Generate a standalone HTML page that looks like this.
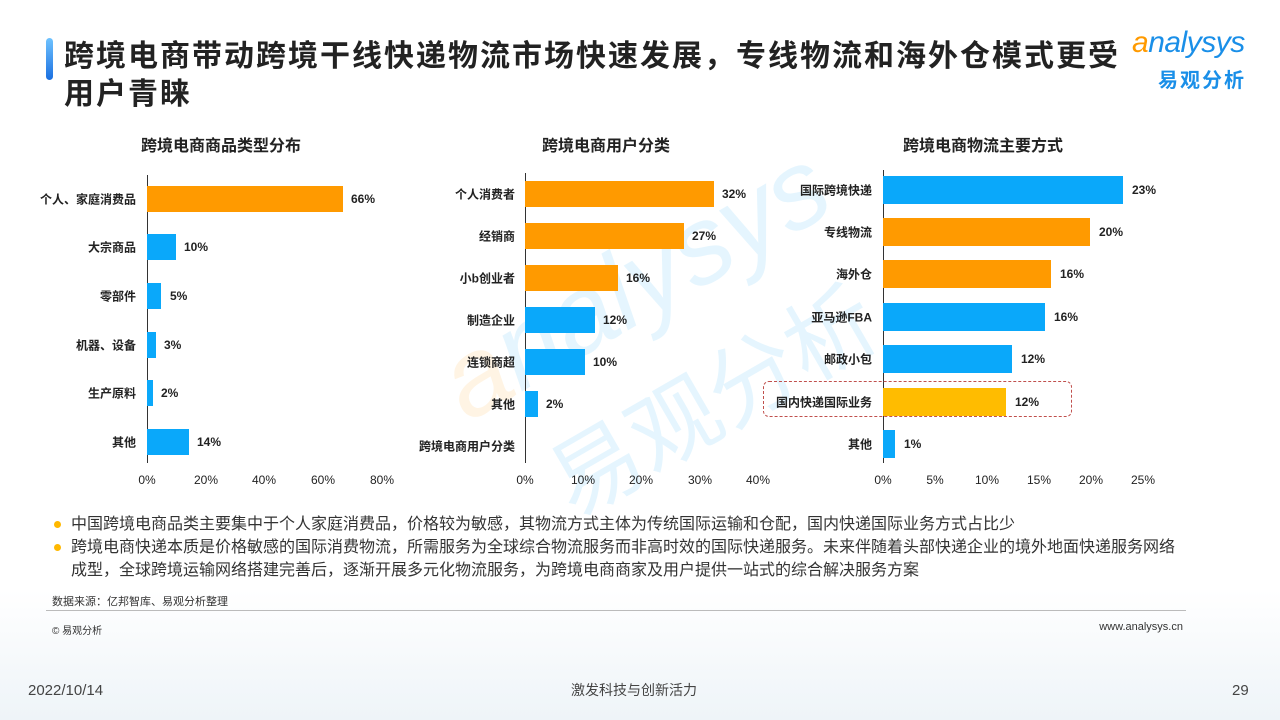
<!DOCTYPE html>
<html><head><meta charset="utf-8"><style>
*{margin:0;padding:0;box-sizing:border-box}
body{width:1280px;height:720px;position:relative;background:#fff;font-family:"Liberation Sans","Noto Sans CJK SC",sans-serif;overflow:hidden;color:#222}
.a{position:absolute;white-space:nowrap}
.bar{position:absolute}
.o{background:#FF9A00}.b{background:#0AA8FA}.y{background:#FFBC00}
.lab{position:absolute;font-size:12px;font-weight:bold;text-align:right;transform:translateY(-50%);color:#222}
.val{position:absolute;font-size:12px;font-weight:bold;transform:translateY(-50%);color:#222}
.tick{position:absolute;font-size:12px;transform:translateX(-50%);top:473px;color:#222}
.ax{position:absolute;width:1px;background:#333}
.ct{position:absolute;font-size:16px;font-weight:bold;transform:translateX(-50%);top:132px}
</style></head><body>
<div class="a" style="left:0;top:590px;width:1280px;height:130px;background:linear-gradient(#fff,#eef4f8)"></div>
<div class="a" style="left:46px;top:38px;width:7px;height:42px;border-radius:4px;background:linear-gradient(#6fc3ff,#1a6fe0)"></div>
<div class="a" style="left:64px;top:38px;font-size:30px;letter-spacing:2px;font-weight:bold;line-height:38px;color:#222">跨境电商带动跨境干线快递物流市场快速发展，专线物流和海外仓模式更受<br>用户青睐</div>
<div class="a" style="left:1132px;top:26px;font-size:30px;color:#1a8fe8;font-style:italic;letter-spacing:-0.5px"><span style="color:#FF9A00">a</span>nalysys</div>
<div class="a" style="left:1158px;top:64px;font-size:20px;color:#1a8fe8;font-weight:bold;letter-spacing:2px">易观分析</div>
<div class="a" style="left:420px;top:220px;font-size:110px;color:#0DA7F7;opacity:.1;transform:rotate(-30deg);font-style:italic"><span style="color:#FF9A00">a</span>nalysys</div>
<div class="a" style="left:530px;top:330px;font-size:90px;color:#0DA7F7;opacity:.1;transform:rotate(-30deg)">易观分析</div>

<div class="ct" style="left:221px">跨境电商商品类型分布</div>
<div class="ct" style="left:606px">跨境电商用户分类</div>
<div class="ct" style="left:983px">跨境电商物流主要方式</div>

<!-- chart1 -->
<div class="ax" style="left:147px;top:175px;height:288px"></div>
<div class="bar o" style="left:147px;top:186px;width:196px;height:26px"></div>
<div class="bar b" style="left:147px;top:234px;width:29px;height:26px"></div>
<div class="bar b" style="left:147px;top:283px;width:14px;height:26px"></div>
<div class="bar b" style="left:147px;top:332px;width:9px;height:26px"></div>
<div class="bar b" style="left:147px;top:380px;width:6px;height:26px"></div>
<div class="bar b" style="left:147px;top:429px;width:42px;height:26px"></div>
<div class="lab" style="right:1144px;top:199px">个人、家庭消费品</div>
<div class="lab" style="right:1144px;top:247px">大宗商品</div>
<div class="lab" style="right:1144px;top:296px">零部件</div>
<div class="lab" style="right:1144px;top:345px">机器、设备</div>
<div class="lab" style="right:1144px;top:393px">生产原料</div>
<div class="lab" style="right:1144px;top:442px">其他</div>
<div class="val" style="left:351px;top:199px">66%</div>
<div class="val" style="left:184px;top:247px">10%</div>
<div class="val" style="left:170px;top:296px">5%</div>
<div class="val" style="left:164px;top:345px">3%</div>
<div class="val" style="left:161px;top:393px">2%</div>
<div class="val" style="left:197px;top:442px">14%</div>
<div class="tick" style="left:147px">0%</div><div class="tick" style="left:206px">20%</div><div class="tick" style="left:264px">40%</div><div class="tick" style="left:323px">60%</div><div class="tick" style="left:382px">80%</div>

<!-- chart2 -->
<div class="ax" style="left:525px;top:173px;height:290px"></div>
<div class="bar o" style="left:525px;top:181px;width:189px;height:26px"></div>
<div class="bar o" style="left:525px;top:223px;width:159px;height:26px"></div>
<div class="bar o" style="left:525px;top:265px;width:93px;height:26px"></div>
<div class="bar b" style="left:525px;top:307px;width:70px;height:26px"></div>
<div class="bar b" style="left:525px;top:349px;width:60px;height:26px"></div>
<div class="bar b" style="left:525px;top:391px;width:13px;height:26px"></div>
<div class="lab" style="right:765px;top:194px">个人消费者</div>
<div class="lab" style="right:765px;top:236px">经销商</div>
<div class="lab" style="right:765px;top:278px">小b创业者</div>
<div class="lab" style="right:765px;top:320px">制造企业</div>
<div class="lab" style="right:765px;top:362px">连锁商超</div>
<div class="lab" style="right:765px;top:404px">其他</div>
<div class="lab" style="right:765px;top:446px">跨境电商用户分类</div>
<div class="val" style="left:722px;top:194px">32%</div>
<div class="val" style="left:692px;top:236px">27%</div>
<div class="val" style="left:626px;top:278px">16%</div>
<div class="val" style="left:603px;top:320px">12%</div>
<div class="val" style="left:593px;top:362px">10%</div>
<div class="val" style="left:546px;top:404px">2%</div>
<div class="tick" style="left:525px">0%</div><div class="tick" style="left:583px">10%</div><div class="tick" style="left:641px">20%</div><div class="tick" style="left:700px">30%</div><div class="tick" style="left:758px">40%</div>

<!-- chart3 -->
<div class="ax" style="left:883px;top:170px;height:293px"></div>
<div class="bar b" style="left:883px;top:176px;width:240px;height:28px"></div>
<div class="bar o" style="left:883px;top:218px;width:207px;height:28px"></div>
<div class="bar o" style="left:883px;top:260px;width:168px;height:28px"></div>
<div class="bar b" style="left:883px;top:303px;width:162px;height:28px"></div>
<div class="bar b" style="left:883px;top:345px;width:129px;height:28px"></div>
<div class="bar y" style="left:883px;top:388px;width:123px;height:28px"></div>
<div class="bar b" style="left:883px;top:430px;width:12px;height:28px"></div>
<div class="a" style="left:763px;top:381px;width:309px;height:36px;border:1px dashed #c0504d;border-radius:6px"></div>
<div class="lab" style="right:408px;top:190px">国际跨境快递</div>
<div class="lab" style="right:408px;top:232px">专线物流</div>
<div class="lab" style="right:408px;top:274px">海外仓</div>
<div class="lab" style="right:408px;top:317px">亚马逊FBA</div>
<div class="lab" style="right:408px;top:359px">邮政小包</div>
<div class="lab" style="right:408px;top:402px">国内快递国际业务</div>
<div class="lab" style="right:408px;top:444px">其他</div>
<div class="val" style="left:1132px;top:190px">23%</div>
<div class="val" style="left:1099px;top:232px">20%</div>
<div class="val" style="left:1060px;top:274px">16%</div>
<div class="val" style="left:1054px;top:317px">16%</div>
<div class="val" style="left:1021px;top:359px">12%</div>
<div class="val" style="left:1015px;top:402px">12%</div>
<div class="val" style="left:904px;top:444px">1%</div>
<div class="tick" style="left:883px">0%</div><div class="tick" style="left:935px">5%</div><div class="tick" style="left:987px">10%</div><div class="tick" style="left:1039px">15%</div><div class="tick" style="left:1091px">20%</div><div class="tick" style="left:1143px">25%</div>

<!-- bullets -->
<div class="a" style="left:54px;top:521px;width:7px;height:7px;border-radius:50%;background:#FFB800"></div>
<div class="a" style="left:54px;top:544px;width:7px;height:7px;border-radius:50%;background:#FFB800"></div>
<div class="a" style="left:71px;top:513px;font-size:16px;line-height:23px;color:#333">中国跨境电商品类主要集中于个人家庭消费品，价格较为敏感，其物流方式主体为传统国际运输和仓配，国内快递国际业务方式占比少<br>跨境电商快递本质是价格敏感的国际消费物流，所需服务为全球综合物流服务而非高时效的国际快递服务。未来伴随着头部快递企业的境外地面快递服务网络<br>成型，全球跨境运输网络搭建完善后，逐渐开展多元化物流服务，为跨境电商商家及用户提供一站式的综合解决服务方案</div>
<div class="a" style="left:52px;top:593px;font-size:11px;color:#333">数据来源：亿邦智库、易观分析整理</div>
<div class="a" style="left:46px;top:610px;width:1140px;height:1px;background:#bbb"></div>
<div class="a" style="left:52px;top:622px;font-size:10px;color:#333">© 易观分析</div>
<div class="a" style="right:97px;top:621px;font-size:11px;color:#333">www.analysys.cn</div>
<div class="a" style="left:28px;top:682px;font-size:15px;color:#444">2022/10/14</div>
<div class="a" style="left:571px;top:680px;font-size:14px;color:#444">激发科技与创新活力</div>
<div class="a" style="left:1232px;top:682px;font-size:15px;color:#444">29</div>
</body></html>
